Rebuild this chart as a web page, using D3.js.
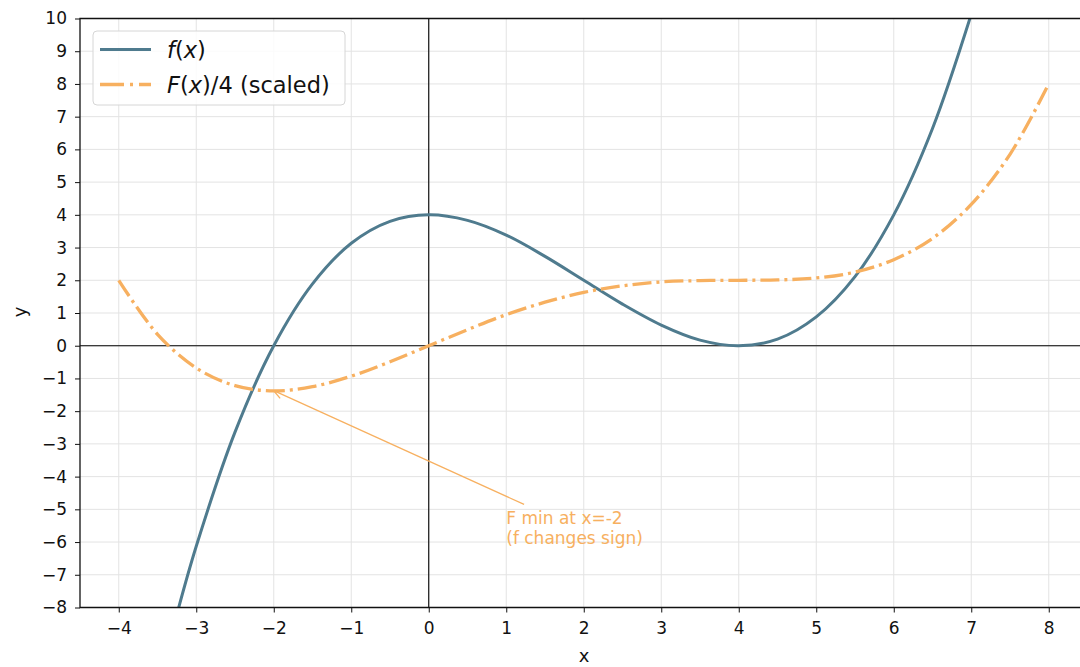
<!DOCTYPE html>
<html>
<head>
<meta charset="utf-8">
<script src="https://cdn.jsdelivr.net/npm/d3@7"></script>
<style>
  body { margin: 0; background: #fff; }
  svg { font-family: "DejaVu Sans", sans-serif; }
</style>
</head>
<body>
<svg id="chart"></svg>
<script>
// values
var fX = [-3.25, -3, -2.5, -2, -1.5, -1, -0.5, 0, 0.5, 1, 1.5, 2, 2.5, 3, 3.5, 4, 4.5, 5, 5.5, 6, 6.5, 7];
var fY = [-8.21, -6.13, -2.64, 0, 1.89, 3.13, 3.8, 4, 3.83, 3.38, 2.73, 2, 1.27, 0.63, 0.17, 0, 0.2, 0.88, 2.11, 4, 6.64, 10.13];
var FX = [-4, -3.5, -3, -2.5, -2, -1.5, -1, -0.5, 0, 0.5, 1, 1.5, 2, 2.5, 3, 3.5, 4, 4.5, 5, 5.5, 6, 6.5, 7, 7.5, 8];
var FY = [2, 0.35, -0.68, -1.22, -1.38, -1.25, -0.93, -0.49, 0, 0.49, 0.95, 1.33, 1.63, 1.83, 1.95, 1.99, 2, 2.01, 2.07, 2.25, 2.63, 3.28, 4.32, 5.85, 8];
var xTicks = [-4, -3, -2, -1, 0, 1, 2, 3, 4, 5, 6, 7, 8];
var yTicks = [-8, -7, -6, -5, -4, -3, -2, -1, 0, 1, 2, 3, 4, 5, 6, 7, 8, 9, 10];
var seriesNames = ["f(x)", "F(x)/4 (scaled)"];
var annotationLines = ["F min at x=-2", "(f changes sign)"];
var annotationTarget = [-2, -1.375];
var annotationFrom = [1.23, -4.85];
var annotationText = [1, -5.45];

var width = 1080, height = 667;
var blue = "#4f7b8e", orange = "#f7b060";

var svg = d3.select("#chart").attr("width", width).attr("height", height);

var x = d3.scaleLinear().domain([-4.5, 8.5]).range([80, 1087.5]);
var y = d3.scaleLinear().domain([-8, 10]).range([607.5, 18.5]);

svg.append("defs").append("clipPath").attr("id", "plotclip")
  .append("rect").attr("x", 80).attr("y", 18.5).attr("width", 1010).attr("height", 589);

// grid
svg.append("g").selectAll("line").data(xTicks).enter().append("line")
  .attr("x1", d => x(d)).attr("x2", d => x(d)).attr("y1", 18.5).attr("y2", 607.5)
  .attr("stroke", "#e3e3e3").attr("stroke-width", 1);
svg.append("g").selectAll("line").data(yTicks).enter().append("line")
  .attr("x1", 80).attr("x2", 1080).attr("y1", d => y(d)).attr("y2", d => y(d))
  .attr("stroke", "#e3e3e3").attr("stroke-width", 1);

// zero lines
svg.append("line").attr("x1", x(0)).attr("x2", x(0)).attr("y1", 18.5).attr("y2", 607.5)
  .attr("stroke", "#000").attr("stroke-width", 1.1);
svg.append("line").attr("x1", 80).attr("x2", 1080).attr("y1", y(0)).attr("y2", y(0))
  .attr("stroke", "#000").attr("stroke-width", 1.1);

// curves
var line = d3.line().x(d => x(d[0])).y(d => y(d[1])).curve(d3.curveCatmullRom);
var plot = svg.append("g").attr("clip-path", "url(#plotclip)");

plot.append("path").datum(d3.zip(fX, fY)).attr("d", line)
  .attr("fill", "none").attr("stroke", blue).attr("stroke-width", 3);
plot.append("path").datum(d3.zip(FX, FY)).attr("d", line)
  .attr("fill", "none").attr("stroke", orange).attr("stroke-width", 3.3)
  .attr("stroke-dasharray", "19,5,3,5");

// axes
var xAxis = svg.append("g").attr("transform", "translate(0,607.5)")
  .call(d3.axisBottom(x).tickValues(xTicks).tickSize(5).tickPadding(9));
var yAxis = svg.append("g").attr("transform", "translate(80,0)")
  .call(d3.axisLeft(y).tickValues(yTicks).tickSize(5).tickPadding(8));
[xAxis, yAxis].forEach(function(a) {
  a.select(".domain").remove();
  a.selectAll(".tick line").attr("stroke", "#111").attr("stroke-width", 1);
  a.selectAll(".tick text").attr("font-family", "DejaVu Sans")
    .attr("font-size", 17).attr("fill", "#111");
});

// frame
svg.append("path").attr("d", "M1090,18.5H80V607.5H1090")
  .attr("fill", "none").attr("stroke", "#111").attr("stroke-width", 1.3);

svg.append("text").attr("x", 584).attr("y", 662).attr("text-anchor", "middle")
  .attr("font-size", 18).attr("fill", "#111").text("x");
svg.append("text").attr("transform", "translate(26,312) rotate(-90)").attr("text-anchor", "middle")
  .attr("font-size", 18).attr("fill", "#111").text("y");

// annotation
var ax = x(annotationTarget[0]), ay = y(annotationTarget[1]);
var sx = x(annotationFrom[0]), sy = y(annotationFrom[1]);
svg.append("line").attr("x1", sx).attr("y1", sy).attr("x2", ax).attr("y2", ay)
  .attr("stroke", orange).attr("stroke-width", 1.3);
var ang = Math.atan2(sy - ay, sx - ax);
[-0.45, 0.45].forEach(function(da) {
  svg.append("line").attr("x1", ax).attr("y1", ay)
    .attr("x2", ax + 10 * Math.cos(ang + da)).attr("y2", ay + 10 * Math.sin(ang + da))
    .attr("stroke", orange).attr("stroke-width", 1.3);
});
svg.append("g").selectAll("text").data(annotationLines).enter().append("text")
  .attr("x", x(annotationText[0])).attr("y", (d, i) => y(annotationText[1]) + i * 20)
  .attr("font-size", 17).attr("fill", orange).text(d => d);

// legend
var legend = svg.append("g");
legend.append("rect").attr("x", 93).attr("y", 31).attr("width", 252).attr("height", 74)
  .attr("rx", 4).attr("fill", "#fff").attr("fill-opacity", 0.85)
  .attr("stroke", "#d6d6d6").attr("stroke-width", 1);
var rows = legend.selectAll("g.row").data(seriesNames).enter().append("g")
  .attr("transform", (d, i) => "translate(100," + (49.5 + i * 35) + ")");
rows.append("line").attr("x1", 0).attr("x2", 51).attr("y1", 0).attr("y2", 0)
  .attr("stroke", (d, i) => i ? orange : blue).attr("stroke-width", (d, i) => i ? 3.3 : 3)
  .attr("stroke-dasharray", (d, i) => i ? "24,6,3,6" : null);
var lt = rows.append("text").attr("x", 67).attr("y", 8).attr("font-size", 22.5).attr("fill", "#111");
lt.each(function(d, i) {
  var t = d3.select(this);
  t.append("tspan").attr("font-style", "italic").text(i ? "F" : "f");
  t.append("tspan").text("(");
  t.append("tspan").attr("font-style", "italic").text("x");
  t.append("tspan").text(i ? ")/4 (scaled)" : ")");
});
</script>
</body>
</html>
